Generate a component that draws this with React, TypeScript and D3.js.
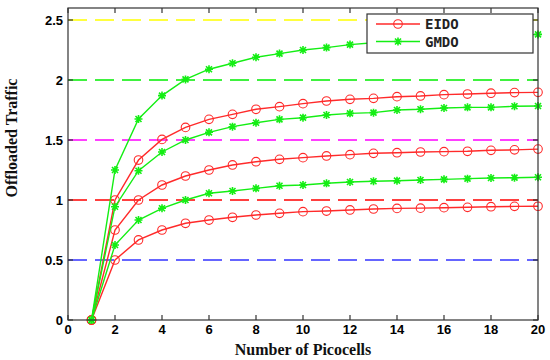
import React, { useEffect, useRef } from 'react';
import * as d3 from 'd3';

// Offloaded traffic vs number of picocells, EIDO vs GMDO curves
// with coloured dashed reference levels.

const W = 550;
const H = 360;
const LEFT = 68;
const RIGHT = 538;
const TOP = 8;
const BOTTOM = 320;

const picocells = [1, 2, 3, 4, 5, 6, 7, 8, 9, 10, 11, 12, 13, 14, 15, 16, 17, 18, 19, 20];

const eidoHigh = [0, 1.0, 1.333, 1.505, 1.605, 1.672, 1.714, 1.756, 1.778, 1.803, 1.825, 1.839, 1.847, 1.861, 1.867, 1.878, 1.883, 1.89, 1.895, 1.897];
const eidoMid = [0, 0.75, 1.0, 1.125, 1.2, 1.25, 1.292, 1.319, 1.339, 1.353, 1.367, 1.378, 1.389, 1.394, 1.4, 1.403, 1.406, 1.414, 1.418, 1.424];
const eidoLow = [0, 0.5, 0.667, 0.75, 0.806, 0.833, 0.856, 0.875, 0.889, 0.903, 0.908, 0.917, 0.925, 0.93, 0.932, 0.936, 0.939, 0.944, 0.947, 0.948];

const gmdoHigh = [0, 1.25, 1.675, 1.87, 2.005, 2.09, 2.14, 2.19, 2.22, 2.25, 2.27, 2.295, 2.31, 2.32, 2.33, 2.34, 2.35, 2.36, 2.37, 2.38];
const gmdoMid = [0, 0.944, 1.244, 1.4, 1.5, 1.564, 1.611, 1.644, 1.672, 1.686, 1.708, 1.722, 1.728, 1.75, 1.756, 1.767, 1.772, 1.772, 1.781, 1.783];
const gmdoLow = [0, 0.625, 0.833, 0.931, 1.0, 1.056, 1.075, 1.097, 1.119, 1.125, 1.139, 1.15, 1.156, 1.161, 1.167, 1.172, 1.178, 1.183, 1.186, 1.19];

const refLevels = [2.5, 2, 1.5, 1, 0.5];
const refColors = ['#ffff00', '#00ee00', '#ff00ff', '#ff0000', '#3333ff'];

const xTicks = [0, 2, 4, 6, 8, 10, 12, 14, 16, 18, 20];
const yTicks = [0, 0.5, 1, 1.5, 2, 2.5];

const RED = '#ff2a2a';
const GREEN = '#14ee14';

const STAR = 'M-4,0L4,0M0,-4L0,4M-3,-3L3,3M-3,3L3,-3';

const App = () => {
  const svgRef = useRef<SVGSVGElement>(null);

  useEffect(() => {
    const svg = d3.select(svgRef.current).attr('width', W).attr('height', H);
    svg.selectAll('*').remove();
    svg.append('rect').attr('width', W).attr('height', H).attr('fill', 'white');

    const x = d3.scaleLinear().domain([0, 20]).range([LEFT, RIGHT]);
    const y = d3.scaleLinear().domain([0, 2.6]).range([BOTTOM, TOP]);

    // Dashed reference levels.
    svg
      .append('g')
      .selectAll('line')
      .data(refLevels)
      .enter()
      .append('line')
      .attr('x1', x(0))
      .attr('x2', x(20))
      .attr('y1', (d) => y(d))
      .attr('y2', (d) => y(d))
      .attr('stroke', (_, i) => refColors[i])
      .attr('stroke-width', 1.6)
      .style('stroke-dasharray', '19, 8');

    const line = d3
      .line<number>()
      .x((_, i) => x(picocells[i]))
      .y((d) => y(d));

    const drawSeries = (values: number[], color: string, kind: 'circle' | 'star') => {
      svg
        .append('path')
        .datum(values)
        .attr('fill', 'none')
        .attr('stroke', color)
        .attr('stroke-width', 1.4)
        .attr('d', line);
      const g = svg.append('g');
      if (kind === 'circle') {
        g.selectAll('circle')
          .data(values)
          .enter()
          .append('circle')
          .attr('cx', (_, i) => x(picocells[i]))
          .attr('cy', (d) => y(d))
          .attr('r', 4.3)
          .attr('fill', 'none')
          .attr('stroke', color)
          .attr('stroke-width', 1.1);
      } else {
        g.selectAll('path')
          .data(values)
          .enter()
          .append('path')
          .attr('transform', (d, i) => `translate(${x(picocells[i])},${y(d)})`)
          .attr('d', STAR)
          .attr('fill', 'none')
          .attr('stroke', color)
          .attr('stroke-width', 1.6);
      }
    };

    drawSeries(eidoHigh, RED, 'circle');
    drawSeries(eidoMid, RED, 'circle');
    drawSeries(eidoLow, RED, 'circle');
    drawSeries(gmdoHigh, GREEN, 'star');
    drawSeries(gmdoMid, GREEN, 'star');
    drawSeries(gmdoLow, GREEN, 'star');

    // Frame and inward ticks.
    const frame = svg.append('g').attr('stroke', '#333').attr('stroke-width', 1.2);
    frame
      .append('rect')
      .attr('x', x(0))
      .attr('y', TOP)
      .attr('width', x(20) - x(0))
      .attr('height', BOTTOM - TOP)
      .attr('fill', 'none');
    xTicks.forEach((t) => {
      frame.append('line').attr('x1', x(t)).attr('x2', x(t)).attr('y1', BOTTOM).attr('y2', BOTTOM - 5);
      frame.append('line').attr('x1', x(t)).attr('x2', x(t)).attr('y1', TOP).attr('y2', TOP + 5);
    });
    yTicks.forEach((t) => {
      frame.append('line').attr('x1', LEFT).attr('x2', LEFT + 5).attr('y1', y(t)).attr('y2', y(t));
      frame.append('line').attr('x1', RIGHT).attr('x2', RIGHT - 5).attr('y1', y(t)).attr('y2', y(t));
    });

    // Tick labels.
    svg
      .append('g')
      .selectAll('text')
      .data(xTicks)
      .enter()
      .append('text')
      .attr('x', (t) => x(t))
      .attr('y', 334)
      .attr('text-anchor', 'middle')
      .attr('font-family', 'Liberation Sans, Arial, sans-serif')
      .attr('font-weight', 'bold')
      .attr('font-size', '13px')
      .attr('fill', '#000')
      .text((t) => String(t));
    svg
      .append('g')
      .selectAll('text')
      .data(yTicks)
      .enter()
      .append('text')
      .attr('x', 63)
      .attr('y', (t) => y(t) + 4.5)
      .attr('text-anchor', 'end')
      .attr('font-family', 'Liberation Sans, Arial, sans-serif')
      .attr('font-weight', 'bold')
      .attr('font-size', '13px')
      .attr('fill', '#000')
      .text((t) => String(t));

    // Axis titles.
    svg
      .append('text')
      .attr('x', 303)
      .attr('y', 355)
      .attr('text-anchor', 'middle')
      .attr('font-family', 'Liberation Serif, Times New Roman, serif')
      .attr('font-weight', 'bold')
      .attr('font-size', '16px')
      .attr('fill', '#111')
      .text('Number of Picocells');
    svg
      .append('text')
      .attr('transform', 'translate(17,138) rotate(-90)')
      .attr('text-anchor', 'middle')
      .attr('font-family', 'Liberation Serif, Times New Roman, serif')
      .attr('font-weight', 'bold')
      .attr('font-size', '16px')
      .attr('fill', '#111')
      .text('Offloaded Traffic');

    // Legend.
    const legend = svg.append('g');
    legend
      .append('rect')
      .attr('x', 367)
      .attr('y', 14)
      .attr('width', 166)
      .attr('height', 39)
      .attr('fill', 'white')
      .attr('stroke', '#333')
      .attr('stroke-width', 1.2);
    const entries = [
      { name: 'EIDO', color: RED, kind: 'circle' },
      { name: 'GMDO', color: GREEN, kind: 'star' },
    ];
    entries.forEach((e, i) => {
      const ly = 24 + i * 17.5;
      legend.append('line').attr('x1', 376).attr('x2', 420).attr('y1', ly).attr('y2', ly).attr('stroke', e.color).attr('stroke-width', 1.4);
      if (e.kind === 'circle') {
        legend.append('circle').attr('cx', 398).attr('cy', ly).attr('r', 4.3).attr('fill', 'none').attr('stroke', e.color).attr('stroke-width', 1.1);
      } else {
        legend.append('path').attr('transform', `translate(398,${ly})`).attr('d', STAR).attr('fill', 'none').attr('stroke', e.color).attr('stroke-width', 1.6);
      }
      legend
        .append('text')
        .attr('x', 425)
        .attr('y', ly + 5)
        .attr('font-family', 'DejaVu Sans Mono, monospace')
        .attr('font-weight', 'bold')
        .attr('font-size', '14px')
        .attr('fill', '#222')
        .text(e.name);
    });
  }, []);

  return <svg ref={svgRef} style={{ position: 'absolute', left: 0, top: 0, display: 'block' }} />;
};

export default App;
